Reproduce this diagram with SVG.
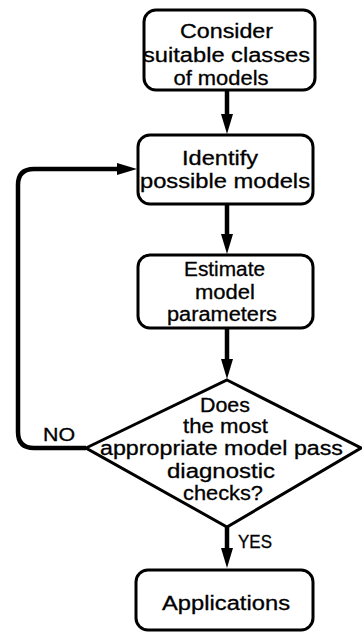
<svg xmlns="http://www.w3.org/2000/svg" width="362" height="637" viewBox="0 0 362 637">
<style>
.box{fill:#fff;stroke:#000;stroke-width:3}
.t{font-family:"Liberation Sans",Arial,sans-serif;font-size:20px;fill:#000;stroke:#000;stroke-width:0.3;text-anchor:middle}
.lbl{font-family:"Liberation Sans",Arial,sans-serif;font-size:18px;fill:#000;stroke:#000;stroke-width:0.3}
.c{fill:none;stroke:#000;stroke-width:4.5}
</style>
<defs>
<marker id="ah" markerUnits="userSpaceOnUse" viewBox="0 0 20 12" refX="10" refY="6" markerWidth="20" markerHeight="12" orient="auto">
<path d="M0,0 L20,6 L0,12 z" fill="#000"/>
</marker>
</defs>
<g id="connectors">
<line class="c" x1="227" y1="90" x2="227" y2="124" marker-end="url(#ah)"/>
<line class="c" x1="227" y1="204" x2="227" y2="244" marker-end="url(#ah)"/>
<line class="c" x1="227" y1="328" x2="227" y2="369" marker-end="url(#ah)"/>
<line class="c" x1="227" y1="527" x2="227" y2="558" marker-end="url(#ah)"/>
<path class="c" d="M86,448 H34 Q18,448 18,432 V185 Q18,169 34,169 H127" marker-end="url(#ah)"/>
<text class="lbl" x="43" y="441" textLength="32" lengthAdjust="spacingAndGlyphs">NO</text>
<text class="lbl" x="238" y="548" textLength="34" lengthAdjust="spacingAndGlyphs">YES</text>
</g>
<g id="consider">
<rect class="box" x="144" y="10" width="171" height="80" rx="12"/>
<text class="t" x="226.5" y="38" textLength="93" lengthAdjust="spacingAndGlyphs">Consider</text>
<text class="t" x="226.5" y="62" textLength="167" lengthAdjust="spacingAndGlyphs">suitable classes</text>
<text class="t" x="221" y="85" textLength="95" lengthAdjust="spacingAndGlyphs">of models</text>
</g>
<g id="identify">
<rect class="box" x="138" y="135" width="175" height="69" rx="12"/>
<text class="t" x="220" y="165" textLength="76" lengthAdjust="spacingAndGlyphs">Identify</text>
<text class="t" x="225" y="188" textLength="170" lengthAdjust="spacingAndGlyphs">possible models</text>
</g>
<g id="estimate">
<rect class="box" x="138" y="255" width="175" height="73" rx="12"/>
<text class="t" x="224.5" y="276" textLength="81" lengthAdjust="spacingAndGlyphs">Estimate</text>
<text class="t" x="225" y="299" textLength="60" lengthAdjust="spacingAndGlyphs">model</text>
<text class="t" x="222" y="321" textLength="110" lengthAdjust="spacingAndGlyphs">parameters</text>
</g>
<g id="decision">
<polygon class="box" points="227,380 361,448 227,527 86,448"/>
<text class="t" x="225" y="412" textLength="50" lengthAdjust="spacingAndGlyphs">Does</text>
<text class="t" x="225.5" y="433" textLength="85" lengthAdjust="spacingAndGlyphs">the most</text>
<text class="t" x="221.5" y="455" textLength="243" lengthAdjust="spacingAndGlyphs">appropriate model pass</text>
<text class="t" x="221" y="478" textLength="108" lengthAdjust="spacingAndGlyphs">diagnostic</text>
<text class="t" x="223" y="500" textLength="80" lengthAdjust="spacingAndGlyphs">checks?</text>
</g>
<g id="applications">
<rect class="box" x="136" y="570" width="177" height="60" rx="12"/>
<text class="t" x="226" y="610" textLength="128" lengthAdjust="spacingAndGlyphs">Applications</text>
</g>
</svg>
